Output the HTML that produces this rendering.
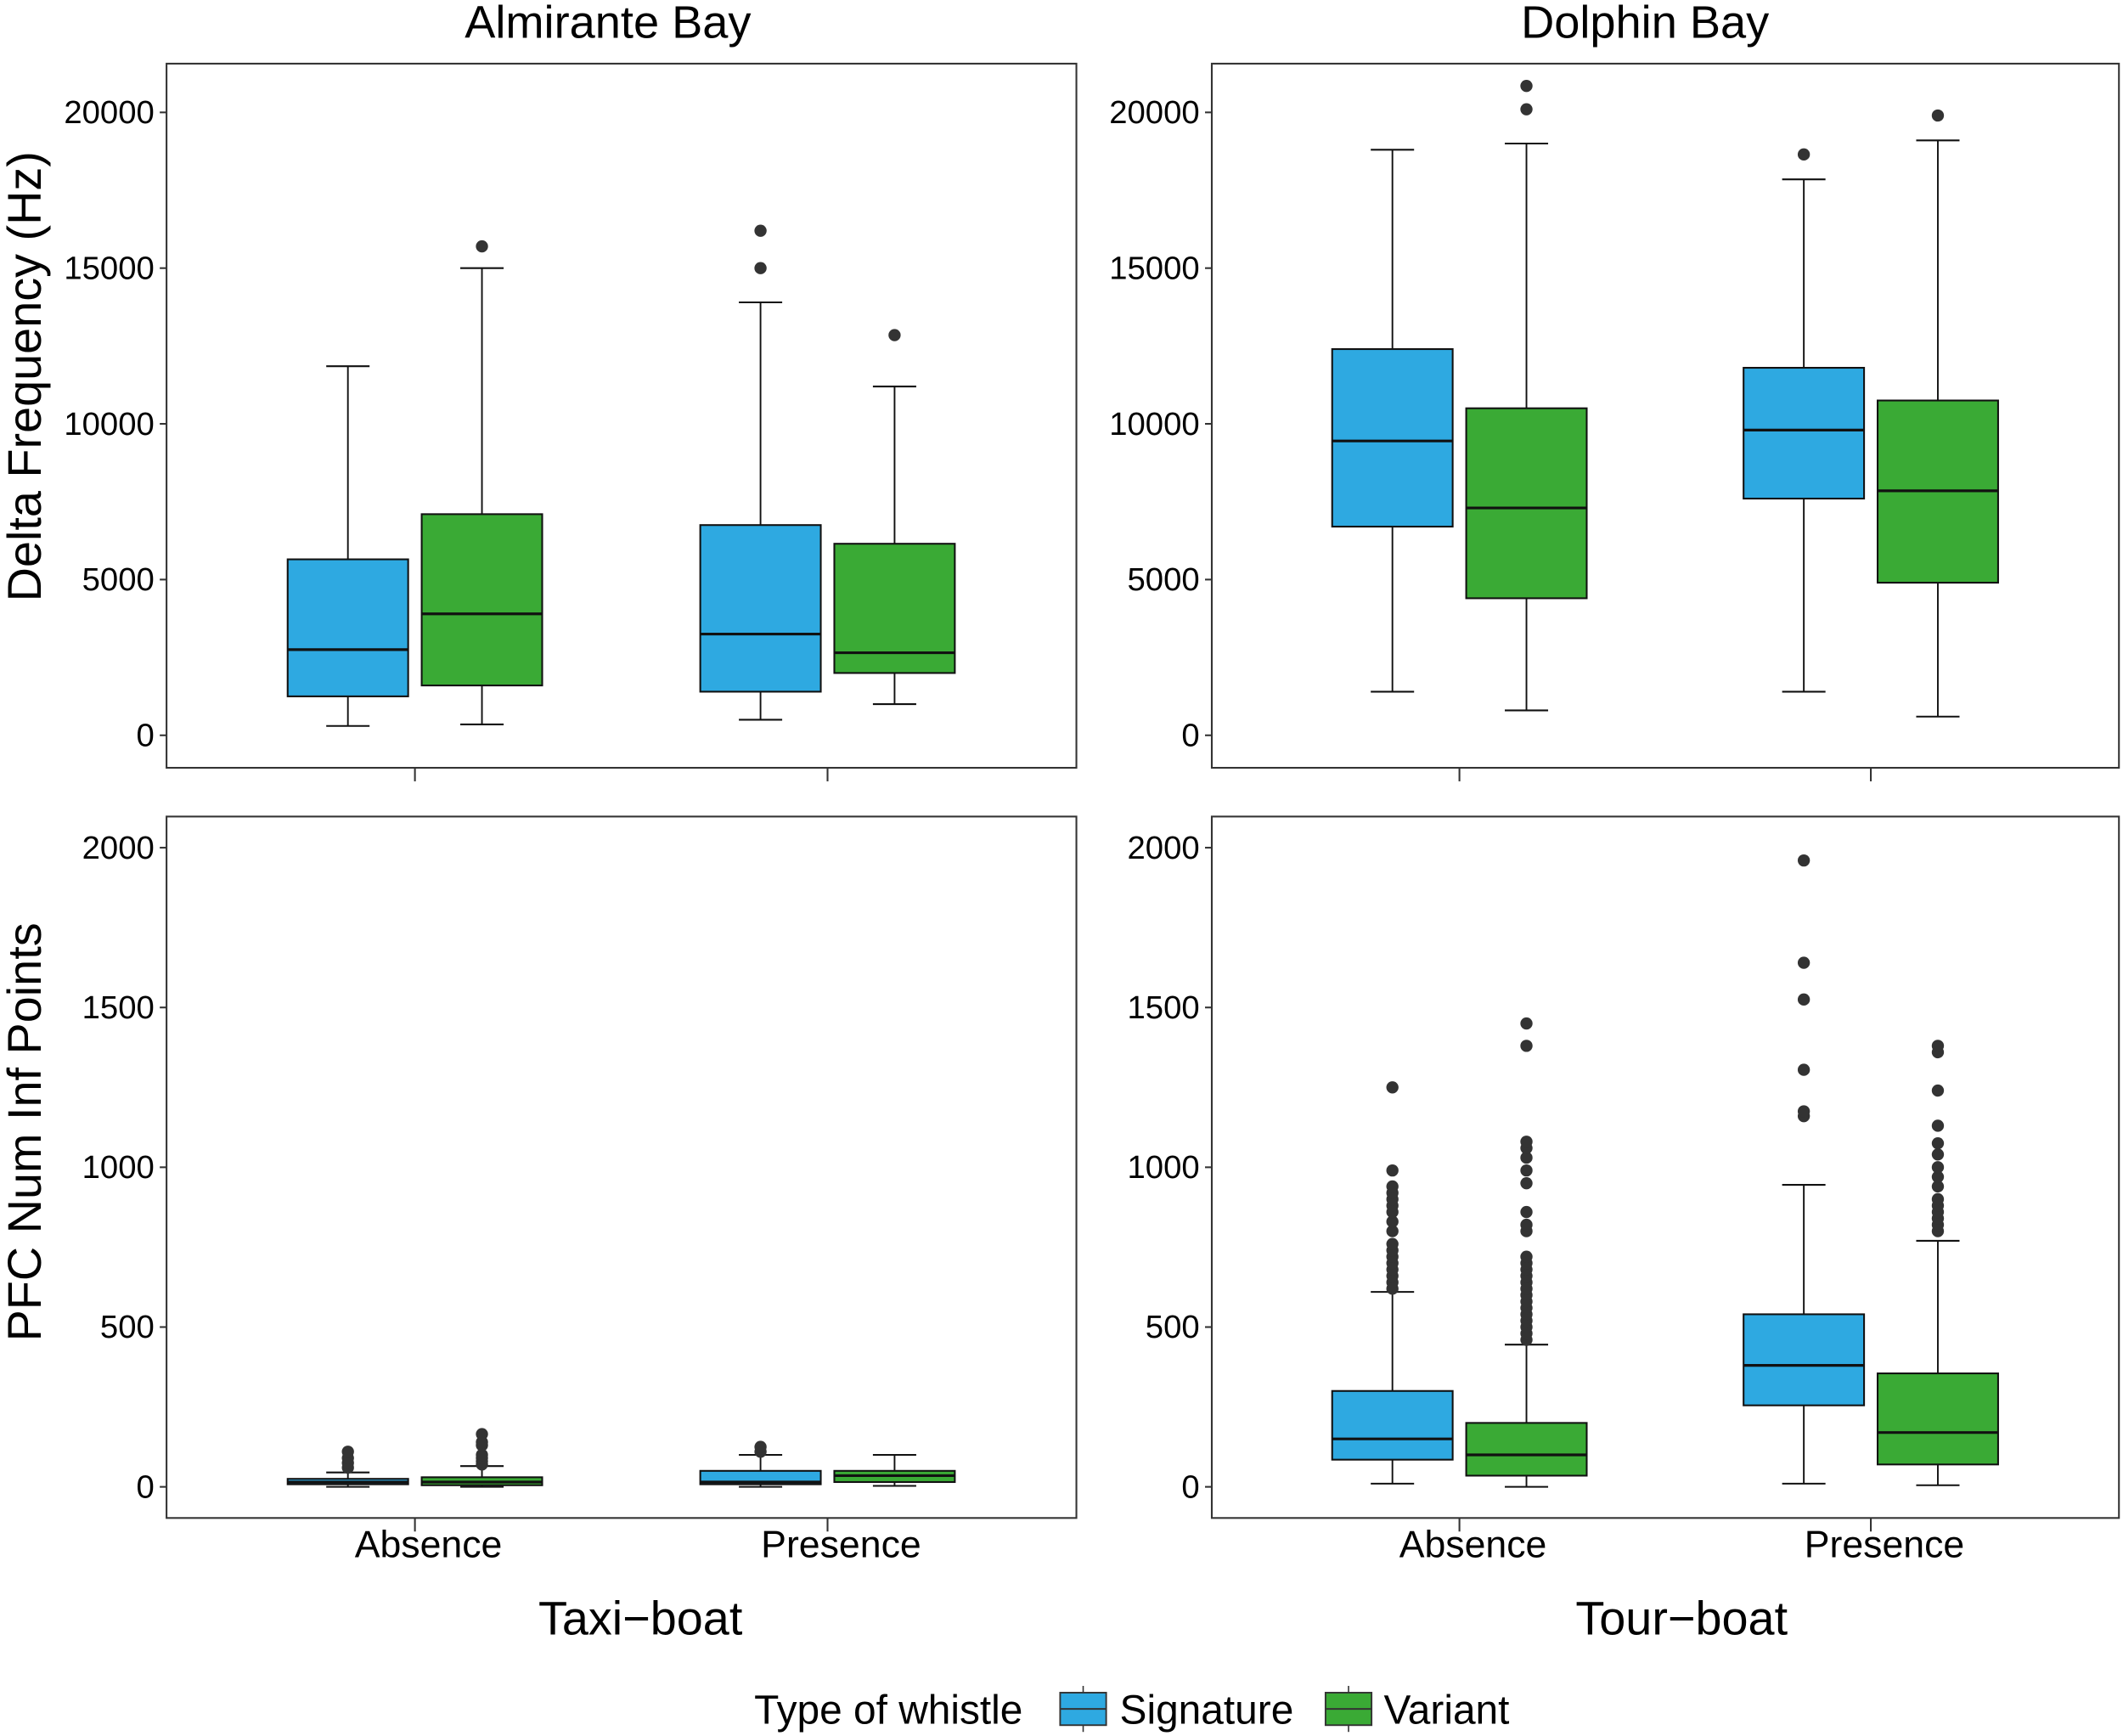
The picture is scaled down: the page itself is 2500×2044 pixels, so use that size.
<!DOCTYPE html>
<html><head><meta charset="utf-8"><style>
html,body{margin:0;padding:0;background:#fff}
svg{display:block}
text{font-family:"Liberation Sans",sans-serif;fill:#000}
</style></head><body>
<svg id="chart" width="2500" height="2044" viewBox="0 0 1568 1282" preserveAspectRatio="none" xmlns="http://www.w3.org/2000/svg"></svg>
<script>
// ---- data ----
const categories = ["Absence","Presence"];
const types = ["Signature","Variant"];
const colors = ["#2EA9E1","#3AAA35"];
// [low, q1, median, q3, high] per panel -> category -> type
const tlStats = [[[300,1250,2750,5650,11850],[350,1600,3900,7100,15000]],[[500,1400,3250,6750,13900],[1000,2000,2650,6150,11200]]];
const tlOut = [[[],[15700]],[[15000,16200],[12850]]];
const trStats = [[[1400,6700,9450,12400,18800],[800,4400,7300,10500,19000]],[[1400,7600,9800,11800,17850],[600,4900,7850,10750,19100]]];
const trOut = [[[],[20100,20850]],[[18650],[19900]]];
const blStats = [[[0,8,15,25,45],[0,5,15,30,65]],[[0,8,15,50,100],[3,15,35,50,100]]];
const blOut = [[[60,75,90,110],[70,80,90,100,130,140,165]],[[110,125],[]]];
const brStats = [[[10,85,150,300,610],[0,35,100,200,445]],[[10,255,380,540,945],[5,70,170,355,770]]];
const brOut = [[[620,640,660,680,700,720,740,760,800,830,860,880,900,920,940,990,1250],[460,480,500,520,540,560,580,600,620,640,660,680,700,720,800,820,860,950,990,1030,1060,1080,1380,1450]],[[1160,1175,1305,1525,1640,1960],[800,820,840,860,880,900,940,970,1000,1040,1075,1130,1240,1360,1380]]];
const topTicks = [0,5000,10000,15000,20000];
const botTicks = [0,500,1000,1500,2000];

const svg = document.getElementById('chart');
const NS = "http://www.w3.org/2000/svg";
function mk(tag, attrs, parent){const e=document.createElementNS(NS,tag);for(const k in attrs)e.setAttribute(k,attrs[k]);(parent||svg).appendChild(e);return e;}
function txt(s, attrs, name){const t=mk('text',attrs);t.textContent=s;return t;}

function panel(name, x0, x1, y0, y1, v0px, vTopPx, vTop, ticks, stats, outs, showX){
  const g = mk('g',{});
  
  
  const y = v => v0px - (v/vTop)*(v0px - vTopPx);
  const w = x1-x0;
  const xc = i => x0 + w*(0.273 + i*0.4535);
  const off = 49.5, bw = 89, cap = 32;
  mk('rect',{x:x0,y:y0,width:w,height:y1-y0,fill:'none',stroke:'#333','stroke-width':1.3},g);
  ticks.forEach(t=>{
    mk('line',{x1:x0-5,x2:x0,y1:y(t),y2:y(t),stroke:'#333','stroke-width':1.3},g);
    const l = txt(String(t),{x:x0-9,y:y(t)+8,'font-size':24,'text-anchor':'end',fill:'#222'},'y-tick-label');
    g.appendChild(l);
  });
  categories.forEach((c,ci)=>{
    const cx = xc(ci);
    mk('line',{x1:cx,x2:cx,y1:y1,y2:y1+10,stroke:'#333','stroke-width':1.3},g);
    if(showX){const l=txt(c,{x:cx+10,y:y1+29,'font-size':28,'text-anchor':'middle'},'x-tick-label');g.appendChild(l);}
    types.forEach((tp,ti)=>{
      const s = stats[ci][ti];
      const bx = cx + (ti===0?-off:off);
      const bg = mk('g',{},g);
      
      
      mk('line',{x1:bx,x2:bx,y1:y(s[0]),y2:y(s[4]),stroke:'#111','stroke-width':1.2},bg);
      mk('line',{x1:bx-cap/2,x2:bx+cap/2,y1:y(s[0]),y2:y(s[0]),stroke:'#111','stroke-width':1.3},bg);
      mk('line',{x1:bx-cap/2,x2:bx+cap/2,y1:y(s[4]),y2:y(s[4]),stroke:'#111','stroke-width':1.3},bg);
      mk('rect',{x:bx-bw/2,y:y(s[3]),width:bw,height:Math.max(1,y(s[1])-y(s[3])),fill:colors[ti],stroke:'#111','stroke-width':1.3},bg);
      mk('line',{x1:bx-bw/2,x2:bx+bw/2,y1:y(s[2]),y2:y(s[2]),stroke:'#111','stroke-width':2},bg);
      outs[ci][ti].forEach(o=>{
        const p = mk('circle',{cx:bx,cy:y(o),r:4.5,fill:'#333'},bg);
        
        
      });
    });
  });
}
panel('panel-almirante-delta-freq',123,795,47,567,543,83,20000,topTicks,tlStats,tlOut,false);
panel('panel-dolphin-delta-freq',895,1565,47,567,543,83,20000,topTicks,trStats,trOut,false);
panel('panel-almirante-pfc',123,795,603,1121,1098,626,2000,botTicks,blStats,blOut,true);
panel('panel-dolphin-pfc',895,1565,603,1121,1098,626,2000,botTicks,brStats,brOut,true);

txt('Almirante Bay',{x:449,y:28,'font-size':34,'text-anchor':'middle'},'panel-title-almirante');
txt('Dolphin Bay',{x:1215,y:28,'font-size':34,'text-anchor':'middle'},'panel-title-dolphin');
txt('Delta Frequency (Hz)',{x:0,y:0,'font-size':35,'text-anchor':'middle',transform:'translate(30,278) rotate(-90)'},'y-axis-title-top');
txt('PFC Num Inf Points',{x:0,y:0,'font-size':35,'text-anchor':'middle',transform:'translate(30,836) rotate(-90)'},'y-axis-title-bottom');
txt('Taxi\u2212boat',{x:473,y:1207,'font-size':35,'text-anchor':'middle'},'x-axis-title-taxi');
txt('Tour\u2212boat',{x:1242,y:1207,'font-size':35,'text-anchor':'middle'},'x-axis-title-tour');

// legend
const lg = mk('g',{});


txt('Type of whistle',{x:557,y:1273,'font-size':30},'legend-title');
[[783,'Signature',827],[979,'Variant',1022]].forEach((d,i)=>{
  const e = mk('g',{},lg);
  
  
  mk('line',{x1:d[0]+17,x2:d[0]+17,y1:1245,y2:1279,stroke:'#333','stroke-width':1},e);
  mk('rect',{x:d[0],y:1250,width:34,height:24,fill:colors[i],stroke:'#333','stroke-width':1.2},e);
  mk('line',{x1:d[0],x2:d[0]+34,y1:1262,y2:1262,stroke:'#333','stroke-width':1.2},e);
  const t = document.createElementNS(NS,'text');
  t.setAttribute('x',d[2]);t.setAttribute('y',1273);t.setAttribute('font-size',30);
  t.textContent=d[1];
  
  
  e.appendChild(t);
});
</script>
</body></html>
